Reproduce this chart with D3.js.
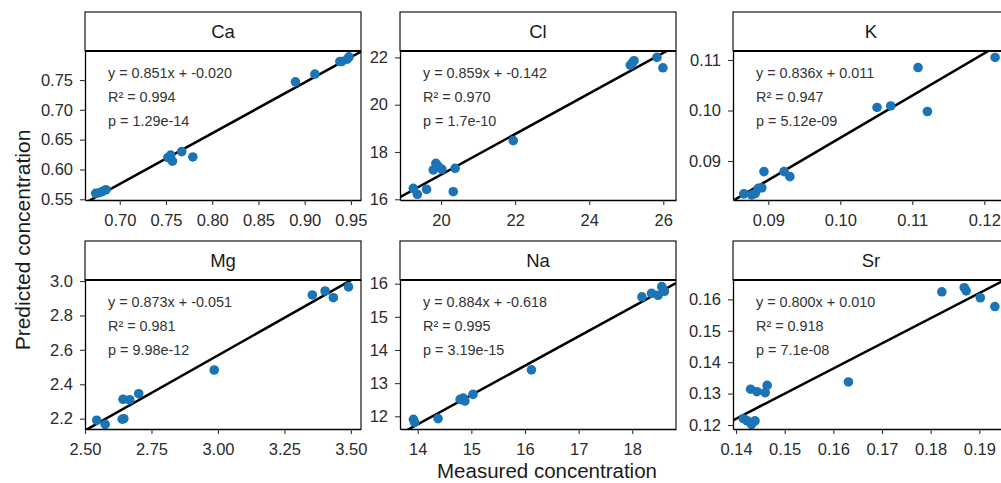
<!DOCTYPE html>
<html><head><meta charset="utf-8">
<script src="https://cdn.jsdelivr.net/npm/d3@7"></script>
<style>body{margin:0;background:#fff}svg{display:block}text{font-family:"Liberation Sans",Arial,sans-serif}</style>
</head><body><svg id="c" width="1001" height="483"></svg>
<script>
const elements = ["Ca", "Cl", "K", "Mg", "Na", "Sr"];

const measuredCa  = [0.674, 0.678, 0.681, 0.685, 0.752, 0.755, 0.757, 0.767, 0.779, 0.890, 0.911, 0.938, 0.940, 0.946, 0.948];
const predictedCa = [0.560, 0.561, 0.563, 0.566, 0.620, 0.624, 0.614, 0.630, 0.621, 0.747, 0.760, 0.781, 0.781, 0.785, 0.789];

const measuredCl  = [19.25, 19.36, 19.61, 19.79, 19.86, 19.92, 20.02, 20.33, 20.38, 21.95, 25.11, 25.17, 25.21, 25.83, 25.99];
const predictedCl = [16.46, 16.21, 16.42, 17.24, 17.52, 17.40, 17.27, 16.32, 17.31, 18.48, 21.67, 21.78, 21.86, 22.00, 21.56];

const measuredK  = [0.0866, 0.0877, 0.0882, 0.0886, 0.0891, 0.0894, 0.0922, 0.0930, 0.1051, 0.1070, 0.1108, 0.1121, 0.1215];
const predictedK = [0.0835, 0.0833, 0.0836, 0.0846, 0.0847, 0.0879, 0.0879, 0.0869, 0.1006, 0.1009, 0.1085, 0.0998, 0.1105];

const measuredMg  = [2.544, 2.576, 2.640, 2.646, 2.643, 2.668, 2.702, 2.986, 3.355, 3.403, 3.434, 3.491];
const predictedMg = [2.191, 2.167, 2.197, 2.200, 2.313, 2.310, 2.345, 2.483, 2.919, 2.942, 2.903, 2.966];

const measuredNa  = [13.92, 13.94, 14.38, 14.79, 14.85, 14.88, 15.03, 16.12, 18.18, 18.36, 18.48, 18.55, 18.60];
const predictedNa = [11.91, 11.82, 11.93, 12.51, 12.55, 12.46, 12.66, 13.40, 15.60, 15.71, 15.65, 15.91, 15.77];

const measuredSr  = [0.1415, 0.1423, 0.1432, 0.1439, 0.1430, 0.1443, 0.1460, 0.1464, 0.1631, 0.1823, 0.1869, 0.1873, 0.1902, 0.1932];
const predictedSr = [0.1220, 0.1213, 0.1202, 0.1213, 0.1314, 0.1306, 0.1303, 0.1326, 0.1337, 0.1624, 0.1637, 0.1627, 0.1605, 0.1577];

const slopes     = [0.851, 0.859, 0.836, 0.873, 0.884, 0.800];
const intercepts = [-0.020, -0.142, 0.011, -0.051, -0.618, 0.010];
const r2Labels   = ["0.994", "0.970", "0.947", "0.981", "0.995", "0.918"];
const pLabels    = ["1.29e-14", "1.7e-10", "5.12e-09", "9.98e-12", "3.19e-15", "7.1e-08"];

const xTickLabels = [
  ["0.70", "0.75", "0.80", "0.85", "0.90", "0.95"],
  ["20", "22", "24", "26"],
  ["0.09", "0.10", "0.11", "0.12"],
  ["2.50", "2.75", "3.00", "3.25", "3.50"],
  ["14", "15", "16", "17", "18"],
  ["0.14", "0.15", "0.16", "0.17", "0.18", "0.19"]
];
const yTickLabels = [
  ["0.55", "0.60", "0.65", "0.70", "0.75"],
  ["16", "18", "20", "22"],
  ["0.09", "0.10", "0.11"],
  ["2.2", "2.4", "2.6", "2.8", "3.0"],
  ["12", "13", "14", "15", "16"],
  ["0.12", "0.13", "0.14", "0.15", "0.16"]
];
const xDomains = [[0.6624, 0.9609], [18.892, 26.343], [0.0851, 0.12343], [2.5, 3.538], [13.67, 18.815], [0.13938, 0.1961]];
const yDomains = [[0.5488, 0.7987], [15.97, 22.27], [0.08228, 0.11178], [2.140, 3.006], [11.617, 16.11], [0.11873, 0.16615]];

const measured  = [measuredCa, measuredCl, measuredK, measuredMg, measuredNa, measuredSr];
const predicted = [predictedCa, predictedCl, predictedK, predictedMg, predictedNa, predictedSr];

const svg = d3.select("#c");
const colLeft = [85, 400, 733];
const panelW = 276;
const rowTop = [12, 241];
const stripH = 39;
const plotH = 149;
const ptColor = "#1a74b6";

elements.forEach((el, i) => {
  const col = i % 3, row = Math.floor(i / 3);
  const x0 = colLeft[col], y0 = rowTop[row] + stripH;
  const g = svg.append("g").attr("transform", `translate(${x0},${y0})`);
  const x = d3.scaleLinear().domain(xDomains[i]).range([0, panelW]);
  const y = d3.scaleLinear().domain(yDomains[i]).range([plotH, 0]);

  const cid = "clip" + i;
  g.append("clipPath").attr("id", cid).append("rect").attr("width", panelW).attr("height", plotH);
  const pg = g.append("g").attr("clip-path", `url(#${cid})`);

  const xd = xDomains[i];
  const lineData = [xd[0], xd[1]].map(v => [v, slopes[i] * v + intercepts[i]]);
  pg.append("path")
    .attr("d", d3.line().x(d => x(d[0])).y(d => y(d[1]))(lineData))
    .attr("stroke", "#000").attr("stroke-width", 2.5).attr("fill", "none");

  pg.selectAll("circle").data(measured[i].map((m, k) => [m, predicted[i][k]]))
    .join("circle")
    .attr("cx", d => x(d[0])).attr("cy", d => y(d[1])).attr("r", 4.8)
    .attr("fill", ptColor);

  g.append("line").attr("x1", panelW).attr("x2", panelW).attr("y1", 0).attr("y2", plotH)
    .attr("stroke", "#000").attr("stroke-width", 1.1);

  const xa = g.append("g").attr("transform", `translate(0,${plotH})`)
    .call(d3.axisBottom(x).tickValues(xTickLabels[i].map(Number)).tickFormat((d, k) => xTickLabels[i][k])
      .tickSizeInner(5).tickSizeOuter(0).tickPadding(4));
  const ya = g.append("g")
    .call(d3.axisLeft(y).tickValues(yTickLabels[i].map(Number)).tickFormat((d, k) => yTickLabels[i][k])
      .tickSizeInner(5).tickSizeOuter(0).tickPadding(7));
  [xa, ya].forEach(a => {
    a.select(".domain").attr("stroke", "#000").attr("stroke-width", 1.3);
    a.selectAll(".tick line").attr("stroke", "#333").attr("stroke-width", 1.1);
    a.selectAll(".tick text").attr("fill", "#2b2b2b").style("font-size", "16.5px")
      .style("font-family", '"Liberation Sans",Arial,sans-serif');
  });
  xa.selectAll(".tick text").attr("dy", "1.05em");

  const s = svg.append("g").attr("transform", `translate(${x0},${rowTop[row]})`);
  s.append("rect").attr("width", panelW).attr("height", stripH)
    .attr("fill", "#fff").attr("stroke", "#000").attr("stroke-width", 1.1);
  s.append("line").attr("x1", 0).attr("x2", panelW).attr("y1", stripH).attr("y2", stripH)
    .attr("stroke", "#000").attr("stroke-width", 2);
  s.append("text").attr("x", panelW / 2).attr("y", stripH / 2).attr("dy", "0.36em")
    .attr("text-anchor", "middle").attr("fill", "#1a1a1a").style("font-size", "18.5px").text(el);

  const a = slopes[i].toFixed(3), b = intercepts[i].toFixed(3);
  const lines = [`y = ${a}x + ${b}`, `R² = ${r2Labels[i]}`, `p = ${pLabels[i]}`];
  g.append("g").selectAll("text").data(lines).join("text")
    .attr("x", 23).attr("y", (d, k) => 21.5 + k * 24.3).attr("dy", "0.36em")
    .attr("fill", "#333").style("font-size", "14.4px").text(d => d);
});

svg.append("text").attr("transform", `translate(22,${(rowTop[0] + stripH + rowTop[1] + stripH + plotH) / 2}) rotate(-90)`)
  .attr("text-anchor", "middle").attr("dy", "0.36em").attr("fill", "#1a1a1a").style("font-size", "21px")
  .text("Predicted concentration");
svg.append("text").attr("x", (colLeft[0] + colLeft[2] + panelW) / 2).attr("y", 477.5)
  .attr("text-anchor", "middle").attr("fill", "#1a1a1a").style("font-size", "20.5px")
  .text("Measured concentration");
</script></body></html>
